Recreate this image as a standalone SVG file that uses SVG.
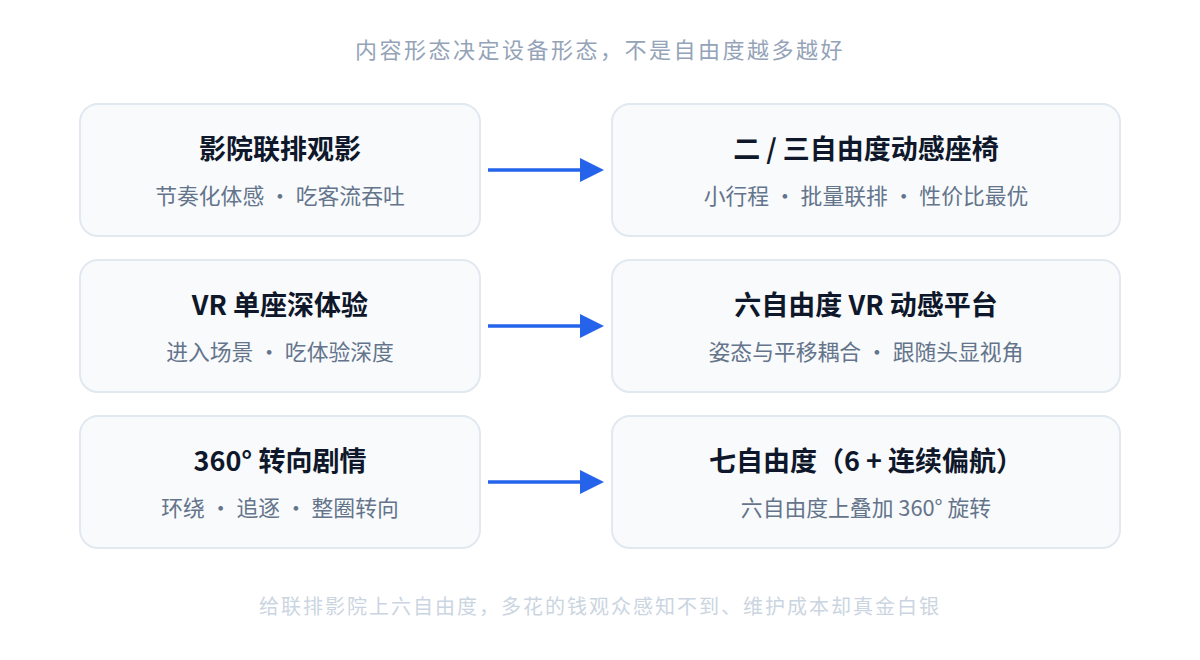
<svg xmlns="http://www.w3.org/2000/svg" width="1200" height="660" viewBox="0 0 1200 660">
<style>
.box{fill:#f8fafc;stroke:#e2e8f0;stroke-width:2}
.t{font-family:"Noto Sans CJK SC","Noto Sans",sans-serif;font-size:27px;font-weight:700;fill:#0f172a;text-anchor:middle}
.s{font-family:"Noto Sans CJK SC","Noto Sans",sans-serif;font-size:21.8px;fill:#64748b;text-anchor:middle;white-space:pre}
.head{font-family:"Noto Sans CJK SC","Noto Sans",sans-serif;font-size:22px;fill:#94a3b8;text-anchor:middle;letter-spacing:2.5px}
.foot{font-family:"Noto Sans CJK SC","Noto Sans",sans-serif;font-size:20px;fill:#cbd5e1;text-anchor:middle;letter-spacing:2px}
.arr{stroke:#2563eb;stroke-width:3.5;fill:none}
</style>
<rect width="1200" height="660" fill="#ffffff"/>
<text class="head" x="600" y="58">内容形态决定设备形态，不是自由度越多越好</text>
<g id="n1"><rect class="box" x="80" y="104" width="400" height="132" rx="18"/><text class="t" x="280" y="159">影院联排观影</text><text class="s" x="280" y="204" xml:space="preserve">节奏化体感 • 吃客流吞吐</text></g>
<g id="n2"><rect class="box" x="612" y="104" width="508" height="132" rx="18"/><text class="t" x="866" y="159">二 / 三自由度动感座椅</text><text class="s" x="866" y="204" xml:space="preserve">小行程 • 批量联排 • 性价比最优</text></g>
<g id="n3"><rect class="box" x="80" y="260" width="400" height="132" rx="18"/><text class="t" x="280" y="315">VR 单座深体验</text><text class="s" x="280" y="360" xml:space="preserve">进入场景 • 吃体验深度</text></g>
<g id="n4"><rect class="box" x="612" y="260" width="508" height="132" rx="18"/><text class="t" x="866" y="315">六自由度 VR 动感平台</text><text class="s" x="866" y="360" xml:space="preserve">姿态与平移耦合 • 跟随头显视角</text></g>
<g id="n5"><rect class="box" x="80" y="416" width="400" height="132" rx="18"/><text class="t" x="280" y="471">360° 转向剧情</text><text class="s" x="280" y="516" xml:space="preserve">环绕 • 追逐 • 整圈转向</text></g>
<g id="n6"><rect class="box" x="612" y="416" width="508" height="132" rx="18"/><text class="t" x="866" y="471">七自由度（6 + 连续偏航）</text><text class="s" x="866" y="516">六自由度上叠加 360° 旋转</text></g>
<g id="connectors">
<line class="arr" x1="488" y1="170" x2="582" y2="170"/><polygon points="580,158 604,170 580,182" fill="#2563eb"/>
<line class="arr" x1="488" y1="326" x2="582" y2="326"/><polygon points="580,314 604,326 580,338" fill="#2563eb"/>
<line class="arr" x1="488" y1="482" x2="582" y2="482"/><polygon points="580,470 604,482 580,494" fill="#2563eb"/>
</g>
<text class="foot" x="600" y="614">给联排影院上六自由度，多花的钱观众感知不到、维护成本却真金白银</text>
</svg>
